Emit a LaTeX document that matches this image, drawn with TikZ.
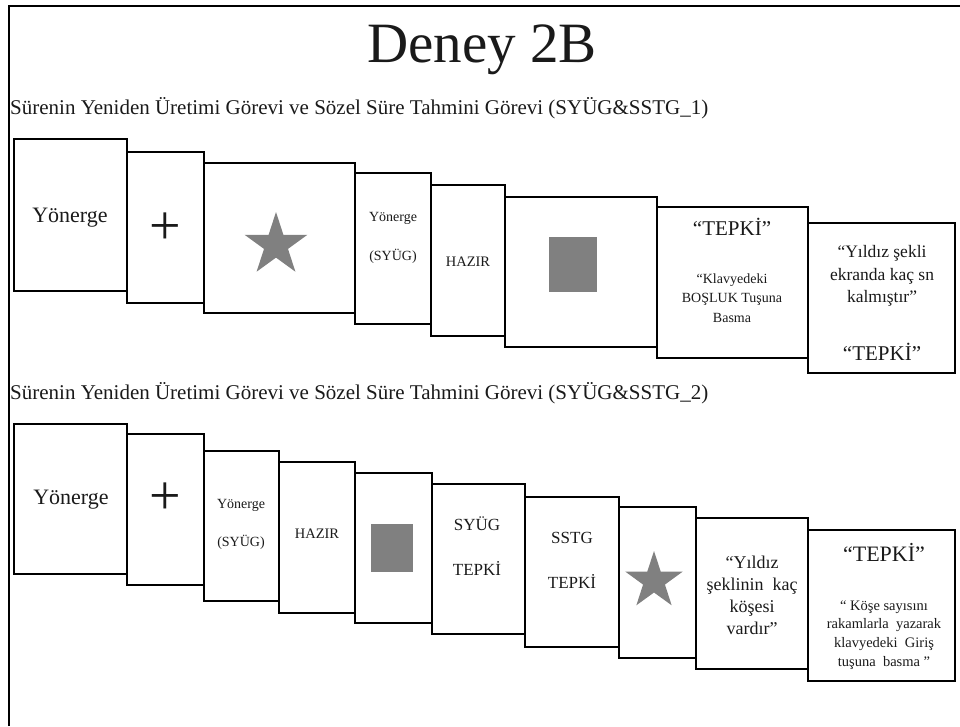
\documentclass[tikz,border=0pt]{standalone}
\usepackage{fontspec}
\setmainfont{Liberation Serif}
\definecolor{shapegray}{HTML}{808080}
\definecolor{txtcol}{HTML}{1A1A1A}
\begin{document}
\begin{tikzpicture}[x=1pt,y=-1pt,
  scr/.style={draw=black, line width=2pt, fill=white},
  lab/.style 2 args={font=\fontsize{#1}{#2}\selectfont, align=center, inner sep=0pt, text=txtcol},
  frame/.style={draw=black, line width=1.6pt},
  shp/.style={fill=shapegray},
]
\useasboundingbox (0,0) rectangle (960,726);
\draw[frame] (9,726) -- (9,6) -- (962,6);

% titles
\node[lab={57}{60}, anchor=base] (title) at (482,62) {Deney 2B};
\node[lab={21}{24}, anchor=base west] (sub1) at (10,114) {Sürenin Yeniden Üretimi Görevi ve Sözel Süre Tahmini Görevi (SYÜG\&SSTG\_1)};
\node[lab={21}{24}, anchor=base west] (sub2) at (10,399) {Sürenin Yeniden Üretimi Görevi ve Sözel Süre Tahmini Görevi (SYÜG\&SSTG\_2)};

% ---------- row 1 ----------
\draw[scr] (14,139) rectangle (127,291);
\draw[scr] (127,152) rectangle (204,303);
\draw[scr] (204,163) rectangle (355,313);
\draw[scr] (355,173) rectangle (431,324);
\draw[scr] (431,185) rectangle (505,336);
\draw[scr] (505,197) rectangle (657,347);
\draw[scr] (657,207) rectangle (808,358);
\draw[scr] (808,223) rectangle (955,373);

\node[lab={22}{26}] (a1) at (70,218) {Yönerge};
\node[lab={56}{60}] (a2) at (165,229) {+};
\fill[shp, shift={(276,245)}] (-90:33) -- (-54:12.6) -- (-18:33) -- (18:12.6) -- (54:33) -- (90:12.6) -- (126:33) -- (162:12.6) -- (198:33) -- (234:12.6) -- cycle;
\node[lab={14}{39}] (a4) at (393,238) {Yönerge\\(SYÜG)};
\node[lab={14.5}{18}] (a5) at (468,262) {HAZIR};
\fill[shp] (549,237) rectangle (597,292);
\node[lab={21}{24}] (a7t) at (732,227) {``TEPKİ''};
\node[lab={14}{19.5}] (a7) at (732,298) {``Klavyedeki\\BOŞLUK Tuşuna\\Basma};
\node[lab={17.5}{22.5}] (a8) at (882,276) {``Yıldız şekli\\ekranda kaç sn\\kalmıştır''};
\node[lab={21}{24}] (a8t) at (882,352) {``TEPKİ''};

% ---------- row 2 ----------
\draw[scr] (14,424) rectangle (127,574);
\draw[scr] (127,434) rectangle (204,585);
\draw[scr] (204,451) rectangle (279,601);
\draw[scr] (279,462) rectangle (355,613);
\draw[scr] (355,473) rectangle (432,623);
\draw[scr] (432,484) rectangle (525,634);
\draw[scr] (525,497) rectangle (619,647);
\draw[scr] (619,507) rectangle (696,658);
\draw[scr] (696,518) rectangle (808,669);
\draw[scr] (808,530) rectangle (955,681);

\node[lab={22}{26}] (b1) at (71,500) {Yönerge};
\node[lab={56}{60}] (b2) at (165,499) {+};
\node[lab={14}{38}] (b3) at (241,524) {Yönerge\\(SYÜG)};
\node[lab={14.5}{18}] (b4) at (317,534) {HAZIR};
\fill[shp] (371,524) rectangle (413,572);
\node[lab={17}{45}] (b6) at (477,546) {SYÜG\\TEPKİ};
\node[lab={17}{45}] (b7) at (572,560) {SSTG\\TEPKİ};
\fill[shp, shift={(654,581)}] (-90:30) -- (-54:11.5) -- (-18:30) -- (18:11.5) -- (54:30) -- (90:11.5) -- (126:30) -- (162:11.5) -- (198:30) -- (234:11.5) -- cycle;
\node[lab={18}{22}] (b9) at (752,595) {``Yıldız\\şeklinin\ \ kaç\\köşesi\\vardır''};
\node[lab={22}{26}] (b10t) at (884,552) {``TEPKİ''};
\node[lab={14.5}{18.7}] (b10) at (884,635) {`` Köşe sayısını\\rakamlarla\ \ yazarak\\klavyedeki\ \ Giriş\\tuşuna\ \ basma ''};
\end{tikzpicture}
\end{document}
